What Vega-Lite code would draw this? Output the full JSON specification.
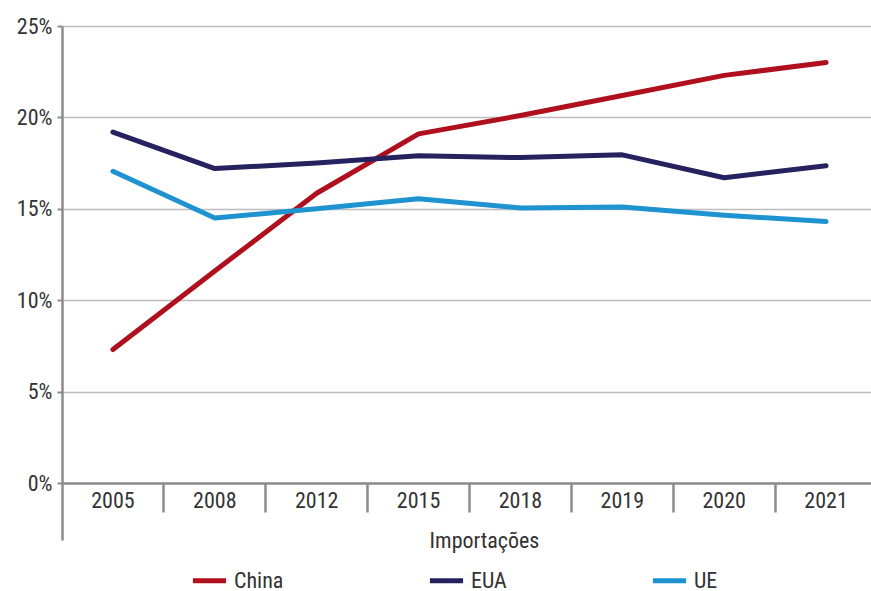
{
  "$schema": "https://vega.github.io/schema/vega-lite/v6.json",
  "width": 815,
  "height": 457,
  "autosize": {"type": "none"},
  "padding": {"left": 62, "top": 26, "right": 0, "bottom": 108},
  "background": "white",
  "config": {
    "font": "Liberation Sans Narrow, Roboto Condensed, DejaVu Sans Condensed, sans-serif",
    "view": {"stroke": null},
    "axis": {
      "labelFont": "Liberation Sans Narrow, Roboto Condensed, DejaVu Sans Condensed, sans-serif",
      "titleFont": "Liberation Sans Narrow, Roboto Condensed, DejaVu Sans Condensed, sans-serif",
      "labelFontSize": 22,
      "titleFontSize": 22,
      "titleFontWeight": "normal",
      "labelColor": "#333333",
      "titleColor": "#333333",
      "domainColor": "#8c8c8c",
      "tickColor": "#8c8c8c"
    },
    "legend": {
      "labelFont": "Liberation Sans Narrow, Roboto Condensed, DejaVu Sans Condensed, sans-serif",
      "labelFontSize": 22,
      "labelColor": "#333333"
    }
  },
  "data": {
    "values": [
      {"ano": "2005", "regiao": "China", "valor": 7.3},
      {"ano": "2008", "regiao": "China", "valor": 11.6},
      {"ano": "2012", "regiao": "China", "valor": 15.85},
      {"ano": "2015", "regiao": "China", "valor": 19.1},
      {"ano": "2018", "regiao": "China", "valor": 20.1},
      {"ano": "2019", "regiao": "China", "valor": 21.2},
      {"ano": "2020", "regiao": "China", "valor": 22.3},
      {"ano": "2021", "regiao": "China", "valor": 23.0},
      {"ano": "2005", "regiao": "EUA", "valor": 19.2},
      {"ano": "2008", "regiao": "EUA", "valor": 17.2},
      {"ano": "2012", "regiao": "EUA", "valor": 17.5},
      {"ano": "2015", "regiao": "EUA", "valor": 17.9},
      {"ano": "2018", "regiao": "EUA", "valor": 17.8},
      {"ano": "2019", "regiao": "EUA", "valor": 17.95},
      {"ano": "2020", "regiao": "EUA", "valor": 16.7},
      {"ano": "2021", "regiao": "EUA", "valor": 17.35},
      {"ano": "2005", "regiao": "UE", "valor": 17.05},
      {"ano": "2008", "regiao": "UE", "valor": 14.5},
      {"ano": "2012", "regiao": "UE", "valor": 15.0},
      {"ano": "2015", "regiao": "UE", "valor": 15.55},
      {"ano": "2018", "regiao": "UE", "valor": 15.05},
      {"ano": "2019", "regiao": "UE", "valor": 15.1},
      {"ano": "2020", "regiao": "UE", "valor": 14.65},
      {"ano": "2021", "regiao": "UE", "valor": 14.3}
    ]
  },
  "mark": {"type": "line", "strokeWidth": 5, "strokeCap": "round", "strokeJoin": "round"},
  "encoding": {
    "x": {
      "field": "ano", "type": "ordinal",
      "scale": {"type": "band", "paddingInner": 0, "paddingOuter": 0},
      "axis": {
        "title": "Importações",
        "titleX": 422,
        "titleY": 47,
        "titleBaseline": "top",
        "labelAngle": 0,
        "labelPadding": {"condition": {"test": "datum.value === '2005'", "value": -50}, "value": -22},
        "bandPosition": 0,
        "tickSize": {"condition": {"test": "datum.value === '2005'", "value": 57}, "value": 29},
        "tickWidth": 2.5,
        "domainWidth": 2.5,
        "grid": false
      }
    },
    "y": {
      "field": "valor", "type": "quantitative",
      "scale": {"domain": [0, 25], "nice": false},
      "axis": {
        "title": null,
        "values": [0, 5, 10, 15, 20, 25],
        "labelExpr": "datum.value + '%'",
        "tickSize": 5,
        "tickWidth": 2,
        "labelPadding": 5,
        "domainWidth": 2.5,
        "grid": true,
        "gridColor": "#bdbdbd",
        "gridWidth": 1.5
      }
    },
    "color": {
      "field": "regiao", "type": "nominal",
      "scale": {"domain": ["China", "EUA", "UE"], "range": ["#B00F1D", "#26215F", "#1F93D0"]},
      "legend": {
        "title": null,
        "orient": "none",
        "direction": "horizontal",
        "legendX": 128,
        "legendY": 535,
        "padding": 0,
        "symbolType": "stroke",
        "symbolSize": 1100,
        "symbolStrokeWidth": 5,
        "labelOffset": 5,
        "columnPadding": 135
      }
    }
  }
}
